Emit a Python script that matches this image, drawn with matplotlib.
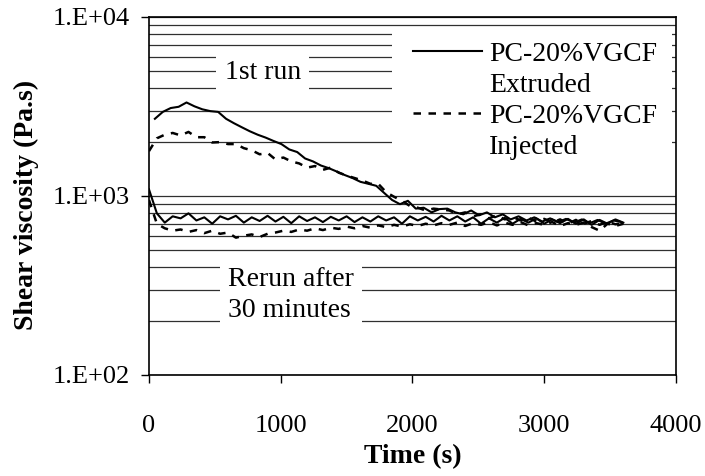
import matplotlib
matplotlib.use("Agg")
import matplotlib.pyplot as plt
import numpy as np
from matplotlib.lines import Line2D
from matplotlib.patches import Rectangle
from matplotlib.ticker import FixedLocator, FuncFormatter, NullFormatter

plt.rcParams['font.family'] = ['Liberation Serif', 'DejaVu Serif']

# time grids (s)
time_ext_first = np.arange(45, 3600, 60)
time_common = np.arange(0, 3601, 60)

# shear viscosity (Pa.s)
ext_first_run = [
    2700, 2950, 3100, 3150, 3330, 3170, 3050, 2980, 2950, 2700,
    2550, 2420, 2300, 2200, 2120, 2030, 1950, 1820, 1760, 1620,
    1560, 1480, 1430, 1370, 1310, 1260, 1200, 1170, 1140, 1040,
    950, 900, 940, 850, 860, 810, 845, 850, 810, 790,
    830, 780, 810, 760, 790, 740, 770, 730, 760, 720,
    750, 715, 745, 710, 740, 705, 735, 700, 730, 715,
]
inj_first_run = [
    1780, 2100, 2200, 2250, 2180, 2280, 2130, 2130, 1990, 2000,
    1950, 1950, 1850, 1800, 1710, 1740, 1600, 1640, 1560, 1520,
    1440, 1470, 1400, 1440, 1350, 1300, 1260, 1220, 1170, 1170,
    1050, 990, 940, 880, 860, 830, 850, 840, 830, 790,
    810, 770, 790, 750, 780, 740, 765, 730, 755, 720,
    745, 710, 740, 700, 735, 700, 725, 690, 720, 695,
    705,
]
ext_rerun = [
    1090, 800, 710, 770, 750, 800, 730, 760, 700, 770,
    740, 775, 710, 760, 725, 775, 720, 765, 705, 770,
    725, 760, 715, 765, 730, 770, 715, 760, 720, 770,
    730, 760, 700, 770, 730, 765, 720, 775, 730, 770,
    720, 760, 700, 750, 710, 755, 700, 745, 710, 750,
    700, 740, 705, 745, 700, 740, 690, 735, 700, 740,
    710,
]
inj_rerun = [
    950, 700, 660, 640, 650, 630, 645, 620, 640, 615,
    625, 585, 600, 610, 590, 615, 625, 640, 630, 650,
    640, 660, 645, 665, 655, 675, 660, 680, 665, 685,
    670, 690, 675, 695, 680, 700, 685, 705, 690, 710,
    680, 705, 690, 715, 685, 710, 690, 715, 685, 705,
    690, 715, 680, 705, 690, 710, 670, 640, 700, 680,
    700,
]

legend_labels = ['PC-20%VGCF', 'Extruded', 'PC-20%VGCF', 'Injected']
y_ticks = [1e2, 1e3, 1e4]
x_ticks = [0, 1000, 2000, 3000, 4000]

FS_TICK = 19
FS_TEXT = 20
dash = (0, (3, 3))

fig = plt.figure(figsize=(7.05, 4.76), dpi=100)
ax = fig.add_axes([0.2113, 0.2122, 0.7476, 0.7521])

ax.set_yscale('log')
ax.set_xlim(0, 4000)
ax.set_ylim(1e2, 1e4)

# horizontal gridlines on every decade step
grid_vals = [m * 10.0 ** e for e in (2, 3) for m in range(1, 10)] + [1e4]
for g in grid_vals:
    ax.axhline(g, color='#303030', lw=0.9, zorder=1)

ax.plot(time_ext_first, ext_first_run, color='black', lw=1.5, zorder=4)
ax.plot(time_common, ext_rerun, color='black', lw=1.5, zorder=4)
ax.plot(time_common, inj_first_run, color='black', lw=1.8, ls=dash, zorder=4)
ax.plot(time_common, inj_rerun, color='black', lw=1.8, ls=dash, zorder=4)

# annotations with white boxes hiding the gridlines
box = dict(facecolor='white', edgecolor='none', pad=6)
ax.text(865, 4.9e3, '1st run', fontsize=FS_TEXT, ha='center', va='center',
        bbox=box, zorder=3)
ax.text(600, 280, 'Rerun after\n30 minutes', fontsize=FS_TEXT, ha='left',
        va='center', linespacing=1.35, bbox=box, zorder=3)

# legend area
ax.add_patch(Rectangle((0.461, 0.56), 0.531, 0.41, transform=ax.transAxes,
                       facecolor='white', edgecolor='none', zorder=2))
handles = [Line2D([], [], color='black', lw=1.5),
           Line2D([], [], ls='none'),
           Line2D([], [], color='black', lw=1.8, ls=dash),
           Line2D([], [], ls='none')]
ax.legend(handles, legend_labels, loc='upper left',
          bbox_to_anchor=(0.474, 0.97), frameon=False, fontsize=FS_TEXT,
          borderpad=0, handlelength=2.5, handletextpad=0.25,
          labelspacing=0.2)

ax.xaxis.set_major_locator(FixedLocator(x_ticks))
ax.yaxis.set_major_locator(FixedLocator(y_ticks))
ax.yaxis.set_minor_formatter(NullFormatter())
ax.yaxis.set_major_formatter(
    FuncFormatter(lambda v, p: '1.E+%02d' % int(round(np.log10(v)))))
ax.tick_params(axis='y', which='minor', length=0)
ax.tick_params(axis='x', direction='out', length=6, width=1, pad=23,
               labelsize=FS_TICK)
ax.tick_params(axis='y', direction='out', length=6, width=1, pad=8,
               labelsize=FS_TICK)
for s in ax.spines.values():
    s.set_linewidth(1.2)
    s.set_zorder(5)

ax.set_xlabel('Time (s)', fontsize=FS_TEXT, fontweight='bold')
ax.set_ylabel('Shear viscosity (Pa.s)', fontsize=FS_TEXT, fontweight='bold')
ax.xaxis.set_label_coords(0.501, -0.193)
ax.yaxis.set_label_coords(-0.208, 0.475)

fig.savefig('out.png', dpi=100)
